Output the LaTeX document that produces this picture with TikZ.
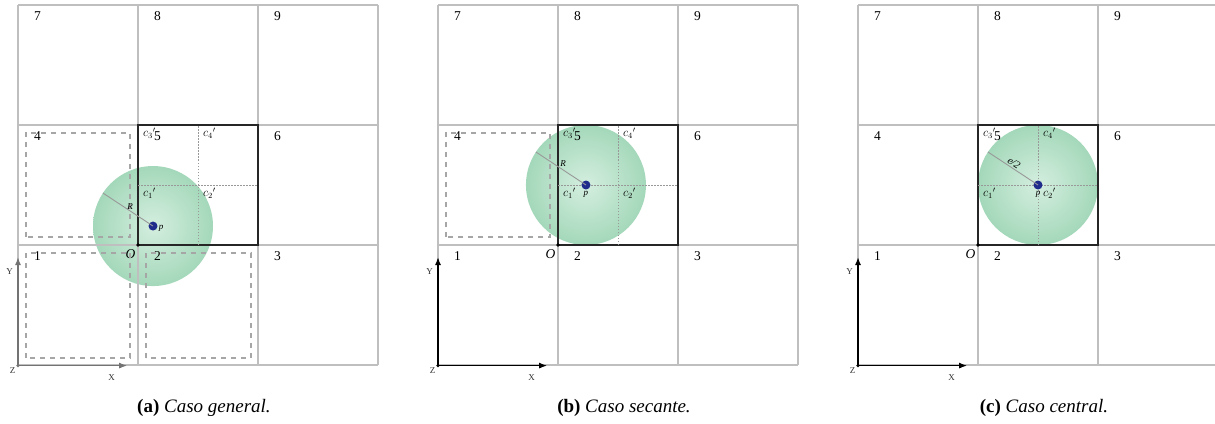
\documentclass[tikz,border=0pt]{standalone}
\usepackage{amsmath}
\usepackage{fontspec}
\setmainfont{Liberation Serif}
\usepackage{tikz}
\usetikzlibrary{arrows.meta,positioning,backgrounds}

\definecolor{mintlight}{HTML}{D4EEDF}
\definecolor{mintdark}{HTML}{A4D8BA}
\definecolor{dotblue}{HTML}{1F2C8C}

\begin{document}
\begin{tikzpicture}[
    x=120pt, y=120pt,
    >={Latex[length=8pt,width=6pt]},
    gridline/.style={draw=gray!50, line width=1.5pt},
    cellbox/.style={draw=black!85, line width=2.2pt},
    ghost/.style={draw=gray!70, line width=1.8pt, dash pattern=on 5pt off 5pt},
    quarter/.style={draw=gray!80, line width=0.9pt, dash pattern=on 1.5pt off 1.5pt},
    sphere/.style={inner color=mintlight, outer color=mintdark},
    dot/.style={circle, fill=dotblue, inner sep=0pt, minimum size=9pt},
    radius/.style={draw=gray!80, line width=0.9pt},
    cellnum/.style={font=\fontsize{13.5}{16}\selectfont, inner sep=0pt},
    clabel/.style={font=\fontsize{11.5}{13}\selectfont, inner sep=0pt},
    small/.style={font=\fontsize{9}{11}\selectfont, inner sep=0pt},
    axislabel/.style={font=\fontsize{9}{11}\selectfont, text=black!80, inner sep=0pt},
    caption/.style={font=\fontsize{19}{22}\selectfont}
]
\useasboundingbox (0,0) rectangle (10.125,3.525);
\clip (0,0) rectangle (10.125,3.525);

% grid, cell numbers, axes and captions of the three panels
\foreach \n/\dx/\ax/\cap in {a/0.15/black!55/general., b/3.65/black/secante., c/7.15/black/central.} {
  \begin{scope}[shift={(\dx,0.4833)}]
    \foreach \i in {0,...,3} {
      \draw[gridline] (\i,0) -- (\i,3);
      \draw[gridline] (0,\i) -- (3,\i);
    }
    \foreach \k in {1,...,9} {
      \pgfmathtruncatemacro{\col}{mod(\k-1,3)}
      \pgfmathtruncatemacro{\row}{int((\k-1)/3)}
      \node[cellnum] (\n-\k) at (\col+0.1625,\row+0.904) {\k};
    }
    \draw[cellbox] (1,1) rectangle (2,2);
    \draw[quarter] (1.5,1) -- (1.5,2);
    \draw[quarter] (1,1.5) -- (2,1.5);
    \node[clabel] (\n-c3) at (1.095,1.93) {$c_3{}'$};
    \node[clabel] (\n-c4) at (1.595,1.93) {$c_4{}'$};
    \node[clabel] (\n-c1) at (1.095,1.43) {$c_1{}'$};
    \node[clabel] (\n-c2) at (1.595,1.43) {$c_2{}'$};
    \fill[black] (1,1) circle (1.8pt);
    \node[cellnum] (\n-O) at (0.9375,0.925) {\textit{O}};
    \coordinate (\n-Z) at (0,-0.005);
    \coordinate (\n-X) at (0.91,-0.005);
    \coordinate (\n-Y) at (0,0.9);
    \fill[\ax] (\n-Z) circle (1.8pt);
    \draw[->, \ax, line width=1.5pt] (\n-Z) -- (\n-X);
    \draw[->, \ax, line width=1.5pt] (\n-Z) -- (\n-Y);
    \node[axislabel] (\n-xl) at (0.78,-0.105) {X};
    \node[axislabel] (\n-yl) at (-0.07,0.78) {Y};
    \node[axislabel] (\n-zl) at (-0.045,-0.05) {Z};
    \node[caption] (\n-cap) at (1.55,-0.358) {\textbf{(\n)} \textit{Caso \cap}};
  \end{scope}
}

% (a) general
\begin{scope}[shift={(0.15,0.4833)}]
  \draw[ghost] (0.065,1.065) rectangle (0.935,1.935);
  \draw[ghost] (0.065,0.06) rectangle (0.935,0.935);
  \draw[ghost] (1.065,0.06) rectangle (1.94,0.935);
  \node[dot] (a-p) at (1.125,1.158) {};
  \coordinate (a-r) at ([shift={(146.6:0.5)}]a-p.center);
  \begin{scope}[on background layer]
    \shade[sphere] (a-p.center) circle (0.5);
  \end{scope}
  \draw[radius] (a-p.center) -- (a-r);
  \node[small] (a-R) at ([shift={(-0.19,0.165)}]a-p.center) {\textit{R}};
  \node[small, right=1pt of a-p, yshift=-2pt] (a-pl) {\textit{p}};
\end{scope}

% (b) secante
\begin{scope}[shift={(3.65,0.4833)}]
  \draw[ghost] (0.065,1.065) rectangle (0.935,1.935);
  \node[dot] (b-p) at (1.233,1.5) {};
  \coordinate (b-r) at ([shift={(146.6:0.5)}]b-p.center);
  \begin{scope}[on background layer]
    \shade[sphere] (b-p.center) circle (0.5);
  \end{scope}
  \draw[radius] (b-p.center) -- (b-r);
  \node[small] (b-R) at ([shift={(-0.19,0.18)}]b-p.center) {\textit{R}};
  \node[small, below=1pt of b-p] (b-pl) {\textit{p}};
\end{scope}

% (c) central
\begin{scope}[shift={(7.15,0.4833)}]
  \node[dot] (c-p) at (1.5,1.5) {};
  \coordinate (c-r) at ([shift={(146.6:0.5)}]c-p.center);
  \begin{scope}[on background layer]
    \shade[sphere] (c-p.center) circle (0.5);
  \end{scope}
  \draw[radius] (c-p.center) -- (c-r);
  \node[small, rotate=-33.4, font=\fontsize{10.5}{12}\selectfont] (c-R) at ([shift={(-0.2,0.185)}]c-p.center) {\textit{e/2}};
  \node[small, below=1pt of c-p] (c-pl) {\textit{p}};
\end{scope}
\end{tikzpicture}
\end{document}
